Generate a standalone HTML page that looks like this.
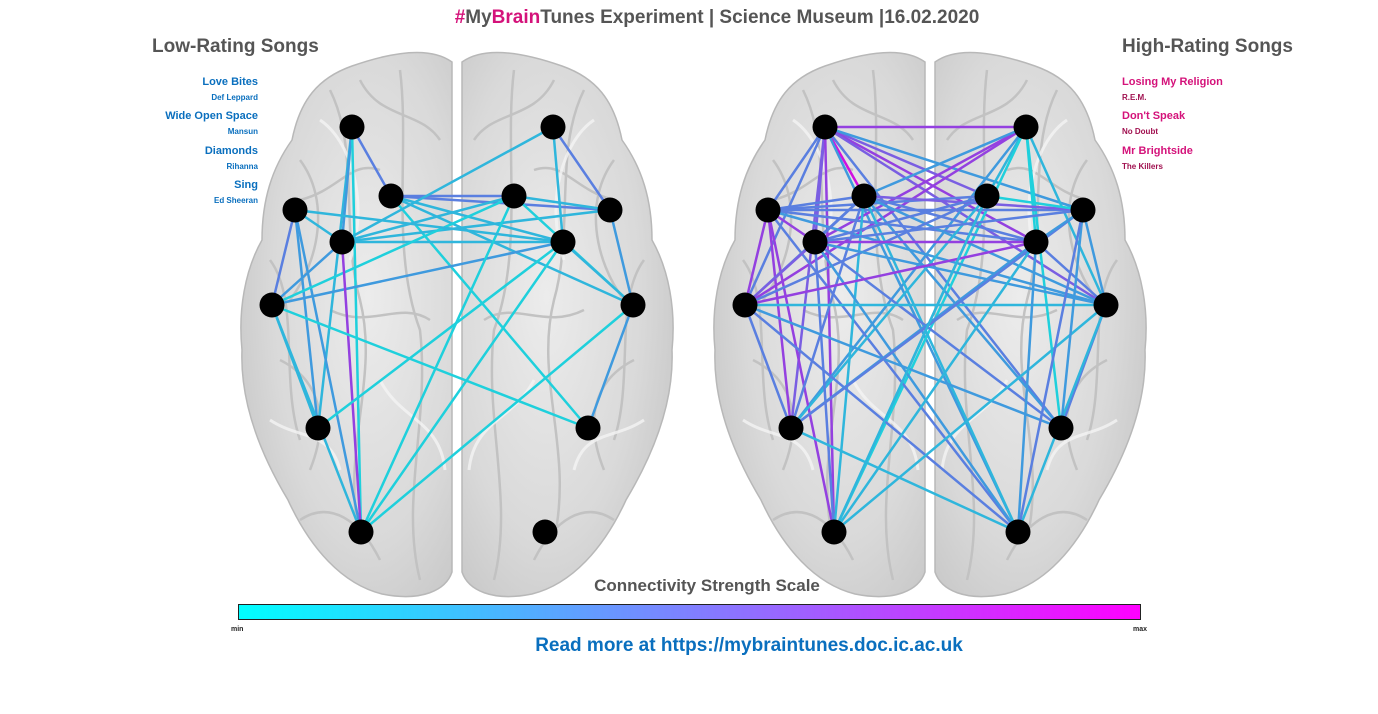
<!DOCTYPE html>
<html><head><meta charset="utf-8"><style>
html,body{margin:0;padding:0;background:#fff;width:1378px;height:714px;overflow:hidden;font-family:"Liberation Sans",Arial,sans-serif}
.t{position:absolute;white-space:nowrap;font-weight:bold}
.l{position:absolute;white-space:nowrap;font-weight:bold;right:1120px;text-align:right;color:#0a6fbe}
.r{position:absolute;white-space:nowrap;font-weight:bold;left:1122px;color:#d4127a}
.s{font-size:11px}.a{font-size:8px}
</style></head><body>
<svg width="1378" height="714" style="position:absolute;left:0;top:0">
<defs>
<radialGradient id="bg" cx="0.6" cy="0.45" r="0.75">
<stop offset="0" stop-color="#ececec"/><stop offset="0.6" stop-color="#d9d9d9"/><stop offset="1" stop-color="#c2c2c2"/></radialGradient>
<linearGradient id="sc" x1="0" x2="1"><stop offset="0" stop-color="#00ffff"/><stop offset="0.5" stop-color="#7f80ff"/><stop offset="1" stop-color="#ff00ff"/></linearGradient>
<g id="hemi">
<path d="M452,62 C430,46 392,52 352,66 C318,78 300,100 292,140 C272,168 262,200 262,240 C245,270 238,310 242,350 C240,400 258,450 288,500 C310,548 342,584 382,594 C422,602 446,590 452,572 Z" fill="url(#bg)" stroke="#b8b8b8" stroke-width="1.5"/>
<path d="M300,160 C330,200 320,260 290,300 M330,90 C360,150 340,230 360,300 C380,380 340,450 360,540 M400,70 C410,150 390,250 420,330 C430,420 400,500 420,580 M270,260 C300,300 280,380 300,440 M280,360 C320,380 330,420 310,470 M360,80 C380,120 420,110 440,140 M300,200 C340,190 350,160 380,170 M330,310 C370,330 400,300 430,320 M300,520 C330,500 360,520 380,560" fill="none" stroke="#c2c2c2" stroke-width="2.5"/>
<path d="M320,120 C350,140 370,200 350,260 M380,380 C400,420 440,420 445,470 M270,420 C300,440 330,430 340,470" fill="none" stroke="#f4f4f4" stroke-width="3" opacity="0.8"/>
</g>
<g id="brain">
<use href="#hemi"/>
<use href="#hemi" transform="translate(914,0) scale(-1,1)"/>
</g>
</defs>
<use href="#brain"/>
<use href="#brain" transform="translate(473,0)"/>
<g id="edges" stroke-width="2.5" stroke-linecap="round"></g>
<g id="nodes" fill="#000"></g>
<rect x="238.5" y="604.5" width="902" height="15" fill="url(#sc)" stroke="#222" stroke-width="1"/>
</svg>
<div class="t" style="left:28px;width:1378px;top:7px;text-align:center;font-size:19px;color:#555">
<span style="color:#d4127a">#</span>My<span style="color:#d4127a">Brain</span>Tunes Experiment | Science Museum |16.02.2020</div>
<div class="t" style="left:152px;top:36px;font-size:19px;color:#555">Low-Rating Songs</div>
<div class="t" style="left:1122px;top:36px;font-size:19px;color:#555">High-Rating Songs</div>
<div class="l s" style="top:76px">Love Bites</div><div class="l a" style="top:93px">Def Leppard</div>
<div class="l s" style="top:110px">Wide Open Space</div><div class="l a" style="top:127px">Mansun</div>
<div class="l s" style="top:145px">Diamonds</div><div class="l a" style="top:162px">Rihanna</div>
<div class="l s" style="top:179px">Sing</div><div class="l a" style="top:196px">Ed Sheeran</div>
<div class="r s" style="top:76px">Losing My Religion</div><div class="r a" style="top:93px;color:#a0104f">R.E.M.</div>
<div class="r s" style="top:110px">Don't Speak</div><div class="r a" style="top:127px;color:#a0104f">No Doubt</div>
<div class="r s" style="top:145px">Mr Brightside</div><div class="r a" style="top:162px;color:#a0104f">The Killers</div>
<div class="t" style="left:18px;width:1378px;top:576px;text-align:center;font-size:17px;color:#555">Connectivity Strength Scale</div>
<div class="t" style="left:231px;top:626px;font-size:7px;color:#222">min</div>
<div class="t" style="left:1133px;top:626px;font-size:7px;color:#222">max</div>
<div class="t" style="left:0;width:1498px;top:635px;text-align:center;font-size:19px;color:#0a6fbe">Read more at https://mybraintunes.doc.ic.ac.uk</div>
<script>
var P={A:[352,127],B:[553,127],C:[295,210],D:[391,196],E:[514,196],F:[610,210],G:[342,242],H:[563,242],I:[272,305],J:[633,305],K:[318,428],L:[588,428],M:[361,532],N:[545,532]};
var cols=['#1fd0dc','#2fb6dc','#3f9ade','#5a7fe0','#7a5ee2','#9440e0','#d010e0'];
var L=[['A','D',3],['A','K',1],['A','G',2],['A','M',0],['D','F',3],['D','H',1],['D','J',1],['D','L',0],['D','E',3],['G','H',1],['G','F',1],['G','E',1],['G','B',1],['C','G',1],['C','M',2],['C','I',3],['C','K',2],['I','H',2],['I','E',0],['I','G',2],['G','M',5],['K','H',0],['M','H',0],['M','E',0],['M','J',0],['E','J',0],['F','J',2],['H','J',1],['J','L',2],['I','L',0],['B','F',3],['B','H',1],['I','K',1],['I','M',1],['C','H',1],['E','F',1]];
var R=[['A','B',5],['A','D',6],['A','C',3],['A','G',4],['A','I',3],['A','E',4],['A','F',2],['A','H',5],['A','J',4],['A','K',4],['A','M',5],['A','L',3],['A','N',2],['B','G',5],['B','I',5],['B','D',2],['B','E',1],['B','H',0],['B','L',0],['B','J',1],['B','M',0],['B','K',2],['C','D',3],['C','E',3],['C','F',3],['C','H',3],['C','I',5],['C','G',5],['C','K',5],['C','M',5],['C','N',3],['C','J',2],['D','F',4],['D','H',3],['D','J',2],['D','L',2],['D','N',1],['D','M',1],['D','I',3],['D','G',3],['D','K',3],['E','F',0],['E','G',3],['E','I',3],['E','M',1],['E','K',1],['G','H',5],['G','J',2],['G','L',3],['G','N',2],['G','F',3],['G','M',3],['G','I',4],['I','J',1],['I','H',5],['I','L',2],['I','N',3],['I','K',3],['K','H',2],['K','F',3],['M','H',1],['M','J',1],['M','E',1],['H','J',3],['H','N',2],['J','L',3],['J','N',1],['F','J',2],['F','H',2],['L','F',2],['N','F',3],['K','N',1]];
var e=document.getElementById('edges'),n=document.getElementById('nodes'),s='';
function ln(a,b,c,dx){s+='<line x1="'+(a[0]+dx)+'" y1="'+a[1]+'" x2="'+(b[0]+dx)+'" y2="'+b[1]+'" stroke="'+cols[c]+'"/>';}
L.forEach(function(x){ln(P[x[0]],P[x[1]],x[2],0);});
R.forEach(function(x){ln(P[x[0]],P[x[1]],x[2],473);});
e.innerHTML=s;s='';
for(var k in P){s+='<circle cx="'+P[k][0]+'" cy="'+P[k][1]+'" r="12.5"/><circle cx="'+(P[k][0]+473)+'" cy="'+P[k][1]+'" r="12.5"/>';}
n.innerHTML=s;
</script>
</body></html>
